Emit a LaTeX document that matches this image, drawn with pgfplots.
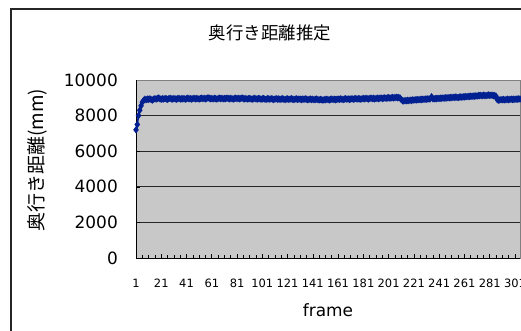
\documentclass[border=0pt]{standalone}
\usepackage{fontspec}
\setmainfont{DejaVu Sans}
\newfontfamily\jp{Noto Sans CJK JP}
\usepackage{pgfplots}
\pgfplotsset{compat=1.18}

\definecolor{plotgray}{RGB}{200,200,200}
\definecolor{bordergray}{RGB}{128,128,128}
\definecolor{series}{RGB}{0,32,145}

% depth estimate per frame (mm)
\pgfplotstableread{
f d
1 7200
2 7500
3 8000
4 8300
5 8550
6 8750
7 8850
8 8920
9 8890
10 8930
11 8910
12 8940
13 8900
14 8870
15 8920
16 8950
17 8930
18 8960
19 8990
20 8940
21 8920
22 8950
23 8930
24 8960
25 8940
26 8910
27 8950
28 8970
29 8940
30 8930
31 8960
32 8940
33 8920
34 8950
35 8970
36 8930
37 8950
38 8940
39 8960
40 8920
41 8950
42 8980
43 8940
44 8960
45 8930
46 8950
47 8970
48 8940
49 8960
50 8950
51 8930
52 8960
53 8980
54 8950
55 8970
56 8940
57 8960
58 9000
59 8970
60 8950
61 8960
62 8940
63 8970
64 8950
65 8930
66 8960
67 8980
68 8950
69 8970
70 8940
71 8960
72 8950
73 8980
74 8960
75 8940
76 8970
77 8950
78 8930
79 8960
80 8980
81 8950
82 8970
83 8940
84 8960
85 8990
86 8950
87 8940
88 8960
89 8930
90 8950
91 8960
92 8940
93 8920
94 8950
95 8970
96 8940
97 8930
98 8960
99 8950
100 8920
101 8940
102 8960
103 8930
104 8910
105 8950
106 8940
107 8920
108 8950
109 8930
110 8900
111 8930
112 8950
113 8920
114 8940
115 8910
116 8930
117 8950
118 8920
119 8900
120 8930
121 8940
122 8910
123 8930
124 8950
125 8920
126 8900
127 8930
128 8940
129 8910
130 8930
131 8920
132 8900
133 8930
134 8910
135 8940
136 8920
137 8890
138 8910
139 8930
140 8900
141 8920
142 8890
143 8910
144 8930
145 8900
146 8880
147 8910
148 8890
149 8870
150 8900
151 8890
152 8920
153 8900
154 8880
155 8910
156 8930
157 8900
158 8920
159 8890
160 8910
161 8930
162 8910
163 8940
164 8920
165 8900
166 8930
167 8950
168 8920
169 8940
170 8910
171 8930
172 8950
173 8920
174 8940
175 8960
176 8930
177 8950
178 8940
179 8920
180 8950
181 8960
182 8940
183 8970
184 8950
185 8930
186 8960
187 8980
188 8950
189 8970
190 8940
191 8960
192 8980
193 8950
194 8970
195 8990
196 8960
197 8980
198 9000
199 8970
200 8990
201 9010
202 8980
203 9000
204 9020
205 8990
206 9010
207 9030
208 9000
209 9020
210 8990
211 8900
212 8840
213 8820
214 8850
215 8830
216 8860
217 8840
218 8870
219 8850
220 8880
221 8870
222 8890
223 8880
224 8900
225 8890
226 8910
227 8900
228 8920
229 8910
230 8930
231 8920
232 8940
233 8930
234 8950
235 9060
236 8950
237 8940
238 8960
239 8950
240 8970
241 8960
242 8980
243 8970
244 8990
245 8980
246 9000
247 8990
248 9010
249 9000
250 9020
251 9010
252 9030
253 9020
254 9040
255 9030
256 9010
257 9040
258 9050
259 9030
260 9060
261 9050
262 9070
263 9060
264 9080
265 9070
266 9090
267 9080
268 9100
269 9090
270 9110
271 9100
272 9130
273 9120
274 9140
275 9110
276 9150
277 9130
278 9120
279 9140
280 9160
281 9130
282 9150
283 9140
284 9120
285 9130
286 9090
287 8900
288 8870
289 8880
290 8900
291 8890
292 8910
293 8880
294 8900
295 8920
296 8890
297 8910
298 8930
299 8900
300 8920
301 8910
302 8930
303 8920
304 8940
305 8930
}\depthdata

\begin{document}
\begin{tikzpicture}
\useasboundingbox (0,0) rectangle (521bp,-331bp);
% chart frame
\draw[line width=1.3bp, black!85] (11bp,-350bp) -- (11bp,-9bp) -- (560bp,-9bp);
% title and axis titles
\node at (270bp,-32.5bp) {\fontsize{17.5}{17.5}\selectfont\jp 奥行き距離推定};
\node[rotate=90] at (37bp,-160bp) {\fontsize{19}{19}\selectfont\jp 奥行き距離(mm)};
\node[inner sep=0pt, anchor=base] at (328bp,-316bp) {\fontsize{17}{17}\selectfont frame};
\begin{axis}[
  at={(136bp,-258bp)}, anchor=south west,
  scale only axis, width=384bp, height=178bp,
  xmin=1, xmax=305, ymin=0, ymax=10000,
  scaled y ticks=false,
  axis background/.style={fill=plotgray},
  axis line style={draw=bordergray, line width=0.8bp},
  ytick={0,2000,...,10000},
  xtick={1,21,...,301},
  minor x tick num=3,
  xtick pos=bottom, ytick pos=left,
  tick align=inside,
  major tick length=4bp, minor tick length=3bp,
  tick style={black, line width=0.6bp},
  minor tick style={black, line width=0.6bp},
  ymajorgrids,
  grid style={draw=black!85, line width=0.7bp},
  /pgf/number format/assume math mode=true,
  /pgf/number format/set thousands separator={},
  yticklabel style={font=\fontsize{17}{17}\selectfont, anchor=east, inner sep=0pt, xshift=-18bp},
  xticklabel style={font=\fontsize{11.5}{11.5}\selectfont, anchor=north, inner sep=0pt, yshift=-21bp},
]
\draw[black, line width=0.9bp] (rel axis cs:0,1) -- (rel axis cs:0,0) -- (rel axis cs:1,0);
\addplot[color=series, line width=1.6bp, mark=diamond*, mark size=2.4bp, mark options={solid}]
  table[x=f, y=d] {\depthdata};
\end{axis}
\end{tikzpicture}
\end{document}
